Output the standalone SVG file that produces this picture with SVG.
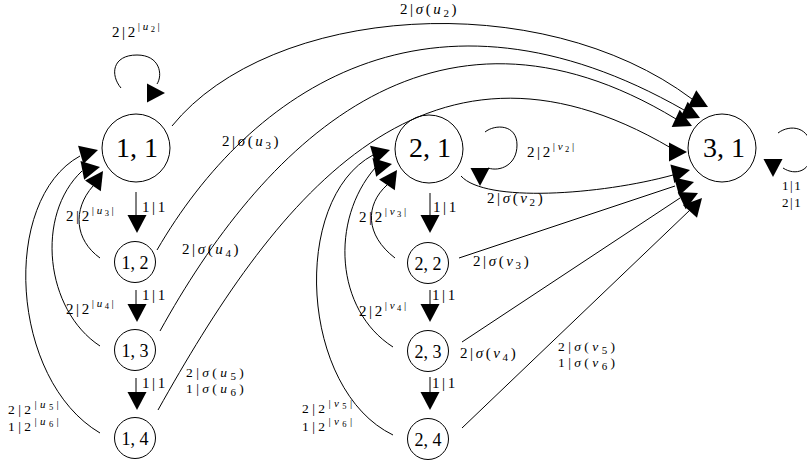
<svg xmlns="http://www.w3.org/2000/svg" xmlns:xlink="http://www.w3.org/1999/xlink" width="807" height="466" viewBox="0 0 807 466">
<style>
.n circle{fill:none;stroke:#000;stroke-width:1}
text{font-family:"Liberation Serif","Times New Roman",serif;fill:#000}
.big{font-size:28px;text-anchor:middle}
.sm{font-size:18px;text-anchor:middle}
.lb{font-size:15px;letter-spacing:2.6px}
.ls{font-size:13.5px;letter-spacing:3.4px}
.lt{font-size:13px;letter-spacing:1.6px}
.i{font-style:italic}
.sub{font-size:11px}
.ssub{font-size:8.5px}
#connectors path.e{fill:none;stroke:#000;stroke-width:1}
#connectors use{fill:#000}
</style>
<defs>
<path id="ah" d="M0,0 L-18,-9.5 L-18,9.5 Z"/>
</defs>

<g id="n11" class="n"><circle cx="136" cy="148" r="34"/><text class="big" x="137" y="157">1, 1</text></g>
<g id="n12" class="n"><circle cx="135" cy="262" r="20.5"/><text class="sm" x="135" y="269">1, 2</text></g>
<g id="n13" class="n"><circle cx="135" cy="350" r="20.5"/><text class="sm" x="135" y="357">1, 3</text></g>
<g id="n14" class="n"><circle cx="135" cy="438" r="20.5"/><text class="sm" x="135" y="445">1, 4</text></g>
<g id="n21" class="n"><circle cx="429" cy="149" r="34"/><text class="big" x="430" y="157">2, 1</text></g>
<g id="n22" class="n"><circle cx="428" cy="263" r="20.5"/><text class="sm" x="428" y="270">2, 2</text></g>
<g id="n23" class="n"><circle cx="428" cy="351" r="20.5"/><text class="sm" x="428" y="358">2, 3</text></g>
<g id="n24" class="n"><circle cx="428" cy="439" r="20.5"/><text class="sm" x="428" y="446">2, 4</text></g>
<g id="n31" class="n"><circle cx="722" cy="148" r="34"/><text class="big" x="724" y="157">3, 1</text></g>

<g id="connectors">
<!-- self loops -->
<path class="e" d="M121 88 C110 75, 112 55, 137 55 C160 55, 163 75, 157 84"/>
<use xlink:href="#ah" href="#ah" transform="translate(165,93)"/>
<path class="e" d="M485 132 C495 124, 517 124, 517 145 C517 165, 500 172, 488 168"/>
<use xlink:href="#ah" href="#ah" transform="translate(480,186) rotate(90)"/>
<path class="e" d="M778 133 C790 124, 810 126, 812 150 C812 172, 795 176, 783 168"/>
<use xlink:href="#ah" href="#ah" transform="translate(773,177) rotate(90)"/>
<!-- vertical chains -->
<path class="e" d="M136 192 L136 216"/>
<use xlink:href="#ah" href="#ah" transform="translate(137,233) rotate(90)"/>
<path class="e" d="M136 290 L136 305"/>
<use xlink:href="#ah" href="#ah" transform="translate(137,322) rotate(90)"/>
<path class="e" d="M136 378 L136 393"/>
<use xlink:href="#ah" href="#ah" transform="translate(137,410) rotate(90)"/>
<path class="e" d="M430 193 L430 216"/>
<use xlink:href="#ah" href="#ah" transform="translate(430,233) rotate(90)"/>
<path class="e" d="M430 290 L430 305"/>
<use xlink:href="#ah" href="#ah" transform="translate(430,322) rotate(90)"/>
<path class="e" d="M430 377 L430 393"/>
<use xlink:href="#ah" href="#ah" transform="translate(430,410) rotate(90)"/>
<!-- back edges to 1,1 -->
<path class="e" d="M100 258 C75 240, 72 210, 93 186"/>
<path class="e" d="M100 346 C45 310, 35 215, 82 171"/>
<path class="e" d="M100 433 C10 380, 0 200, 80 156"/>
<use xlink:href="#ah" href="#ah" transform="translate(98,150) rotate(-16)"/>
<use xlink:href="#ah" href="#ah" transform="translate(100,167) rotate(-11)"/>
<use xlink:href="#ah" href="#ah" transform="translate(103,171) rotate(-56)"/>
<!-- back edges to 2,1 -->
<path class="e" d="M395 258 C365 235, 365 205, 387 185"/>
<path class="e" d="M393 347 C335 310, 330 220, 375 168"/>
<path class="e" d="M393 435 C300 390, 290 200, 373 155"/>
<use xlink:href="#ah" href="#ah" transform="translate(390,150) rotate(-16)"/>
<use xlink:href="#ah" href="#ah" transform="translate(392,164) rotate(-11)"/>
<use xlink:href="#ah" href="#ah" transform="translate(397,170) rotate(-56)"/>
<!-- 1,x to 3,1 -->
<path class="e" d="M172 126 C270 5, 540 -15, 692 99"/>
<path class="e" d="M157 250 C250 90, 430 -35, 684 110"/>
<path class="e" d="M160 331 C260 150, 430 -30, 676 119"/>
<path class="e" d="M158 410 C270 210, 420 0, 671 148"/>
<use xlink:href="#ah" href="#ah" transform="translate(708,107) rotate(27)"/>
<use xlink:href="#ah" href="#ah" transform="translate(700,118) rotate(25)"/>
<use xlink:href="#ah" href="#ah" transform="translate(692,126) rotate(25)"/>
<use xlink:href="#ah" href="#ah" transform="translate(687,152)"/>
<!-- 2,x to 3,1 -->
<path class="e" d="M461 176 C485 203, 600 195, 673 175"/>
<path class="e" d="M459 258 L675 186"/>
<path class="e" d="M462 342 L680 198"/>
<path class="e" d="M462 428 L690 210"/>
<use xlink:href="#ah" href="#ah" transform="translate(690,170) rotate(-12)"/>
<use xlink:href="#ah" href="#ah" transform="translate(694,182) rotate(-15)"/>
<use xlink:href="#ah" href="#ah" transform="translate(698,193) rotate(-25)"/>
<use xlink:href="#ah" href="#ah" transform="translate(702,198) rotate(-48)"/>
</g>

<g id="labels">
<text class="lb" x="112" y="37">2|2<tspan class="sub" dy="-7">|<tspan class="i">u</tspan><tspan class="ssub" dy="2">2</tspan><tspan dy="-2">|</tspan></tspan></text>
<text class="lb" x="400" y="14">2|<tspan class="i">σ</tspan>(<tspan class="i">u</tspan><tspan class="sub" dy="3">2</tspan><tspan dy="-3">)</tspan></text>
<text class="lb" x="222" y="146">2|<tspan class="i">σ</tspan>(<tspan class="i">u</tspan><tspan class="sub" dy="3">3</tspan><tspan dy="-3">)</tspan></text>
<text class="lb" x="66" y="221">2|2<tspan class="sub" dy="-7">|<tspan class="i">u</tspan><tspan class="ssub" dy="2">3</tspan><tspan dy="-2">|</tspan></tspan></text>
<text class="lb" x="142" y="212">1|1</text>
<text class="lb" x="182" y="254">2|<tspan class="i">σ</tspan>(<tspan class="i">u</tspan><tspan class="sub" dy="3">4</tspan><tspan dy="-3">)</tspan></text>
<text class="lb" x="142" y="300">1|1</text>
<text class="lb" x="66" y="314">2|2<tspan class="sub" dy="-7">|<tspan class="i">u</tspan><tspan class="ssub" dy="2">4</tspan><tspan dy="-2">|</tspan></tspan></text>
<text class="lb" x="142" y="388">1|1</text>
<text class="ls" x="186" y="377">2|<tspan class="i">σ</tspan>(<tspan class="i">u</tspan><tspan class="sub" dy="3">5</tspan><tspan dy="-3">)</tspan></text>
<text class="ls" x="186" y="393">1|<tspan class="i">σ</tspan>(<tspan class="i">u</tspan><tspan class="sub" dy="3">6</tspan><tspan dy="-3">)</tspan></text>
<text class="ls" x="8" y="414">2|2<tspan class="sub" dy="-6">|<tspan class="i">u</tspan><tspan class="ssub" dy="2">5</tspan><tspan dy="-2">|</tspan></tspan></text>
<text class="ls" x="8" y="431">1|2<tspan class="sub" dy="-6">|<tspan class="i">u</tspan><tspan class="ssub" dy="2">6</tspan><tspan dy="-2">|</tspan></tspan></text>

<text class="lb" x="433" y="212">1|1</text>
<text class="lb" x="359" y="222">2|2<tspan class="sub" dy="-7">|<tspan class="i">v</tspan><tspan class="ssub" dy="2">3</tspan><tspan dy="-2">|</tspan></tspan></text>
<text class="lb" x="487" y="203">2|<tspan class="i">σ</tspan>(<tspan class="i">v</tspan><tspan class="sub" dy="3">2</tspan><tspan dy="-3">)</tspan></text>
<text class="lb" x="527" y="157">2|2<tspan class="sub" dy="-7">|<tspan class="i">v</tspan><tspan class="ssub" dy="2">2</tspan><tspan dy="-2">|</tspan></tspan></text>
<text class="lb" x="473" y="266">2|<tspan class="i">σ</tspan>(<tspan class="i">v</tspan><tspan class="sub" dy="3">3</tspan><tspan dy="-3">)</tspan></text>
<text class="lb" x="432" y="300">1|1</text>
<text class="lb" x="359" y="316">2|2<tspan class="sub" dy="-7">|<tspan class="i">v</tspan><tspan class="ssub" dy="2">4</tspan><tspan dy="-2">|</tspan></tspan></text>
<text class="lb" x="460" y="358">2|<tspan class="i">σ</tspan>(<tspan class="i">v</tspan><tspan class="sub" dy="3">4</tspan><tspan dy="-3">)</tspan></text>
<text class="lb" x="432" y="388">1|1</text>
<text class="ls" x="302" y="413">2|2<tspan class="sub" dy="-6">|<tspan class="i">v</tspan><tspan class="ssub" dy="2">5</tspan><tspan dy="-2">|</tspan></tspan></text>
<text class="ls" x="302" y="431">1|2<tspan class="sub" dy="-6">|<tspan class="i">v</tspan><tspan class="ssub" dy="2">6</tspan><tspan dy="-2">|</tspan></tspan></text>
<text class="ls" x="558" y="351">2|<tspan class="i">σ</tspan>(<tspan class="i">v</tspan><tspan class="sub" dy="3">5</tspan><tspan dy="-3">)</tspan></text>
<text class="ls" x="558" y="367">1|<tspan class="i">σ</tspan>(<tspan class="i">v</tspan><tspan class="sub" dy="3">6</tspan><tspan dy="-3">)</tspan></text>
<text class="lt" x="782" y="190">1|1</text>
<text class="lt" x="782" y="207">2|1</text>
</g>
</svg>
